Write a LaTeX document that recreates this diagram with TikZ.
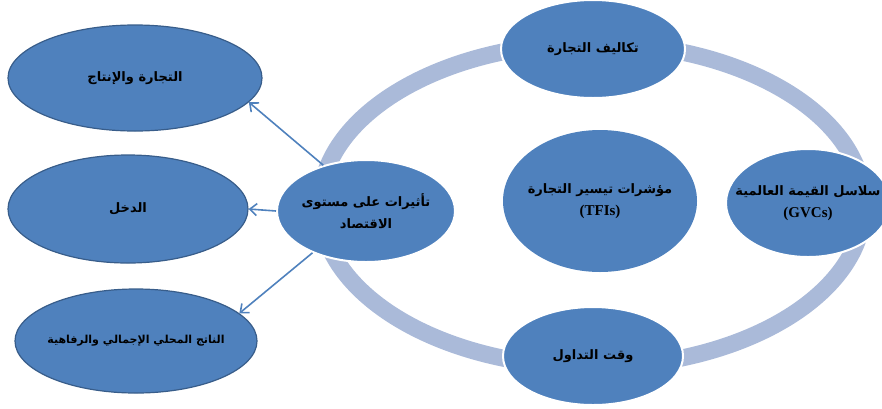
\documentclass[tikz,border=0pt]{standalone}
\usepackage{fontspec}
\setmainfont{Liberation Serif}
\newfontfamily\arabicfont[Script=Arabic]{DejaVu Sans}
\TeXXeTstate=1
\usetikzlibrary{shapes.geometric,arrows.meta}

\definecolor{bubblefill}{RGB}{79,129,189}
\definecolor{bubbleline}{RGB}{56,93,138}
\definecolor{ringblue}{RGB}{170,186,217}
\definecolor{arrowblue}{RGB}{79,129,189}

\newcommand{\artext}[1]{{\arabicfont\beginR #1\endR}}
\newcommand{\latn}[1]{{\fontsize{15}{18}\selectfont #1}}

\begin{document}
\begin{tikzpicture}[x=1pt,y=-1pt,
  bubble/.style={ellipse,fill=bubblefill,inner xsep=-30pt,inner ysep=0pt,align=center,
    font=\bfseries\fontsize{13}{22}\selectfont},
  outer/.style={bubble,draw=bubbleline,line width=1.2pt},
  onring/.style={bubble,draw=white,line width=2pt},
  link/.style={draw=arrowblue,line width=1.6pt,-{Straight Barb[length=7pt,width=12pt]}}]

\useasboundingbox (0,0) rectangle (882,408);

% ring behind the cycle
\draw[ringblue,line width=17pt] (592,205) ellipse [x radius=272, y radius=162];

\node[onring,minimum width=184pt,minimum height=98pt] (costs) at (593,49) {\artext{تكاليف التجارة}};
\node[onring,minimum width=180pt,minimum height=98pt] (time) at (593,356) {\artext{وقت التداول}};
\node[onring,minimum width=164pt,minimum height=108pt] (gvc) at (808,203) {\artext{سلاسل القيمة العالمية}\\\latn{(GVCs)}};
\node[bubble,minimum width=194pt,minimum height=142pt] (tfi) at (600,201) {\artext{مؤشرات تيسير التجارة}\\\latn{(TFIs)}};
\node[onring,minimum width=178pt,minimum height=102pt] (impact) at (366,211) {\artext{تأثيرات على مستوى}\\\artext{الاقتصاد}};

% outcomes on the left
\node[outer,minimum width=254pt,minimum height=106pt] (trade) at (135,78) {\artext{التجارة والإنتاج}};
\node[outer,minimum width=240pt,minimum height=108pt] (income) at (128,209) {\artext{الدخل}};
\node[outer,minimum width=242pt,minimum height=104pt,font=\bfseries\fontsize{11}{14}\selectfont] (gdp) at (136,341) {\artext{الناتج المحلي الإجمالي والرفاهية}};

\draw[link] (impact.133) -- (trade.-12);
\draw[link] (impact.west) -- (income.east);
\draw[link] (impact.218) -- (gdp.15);

\end{tikzpicture}
\end{document}
